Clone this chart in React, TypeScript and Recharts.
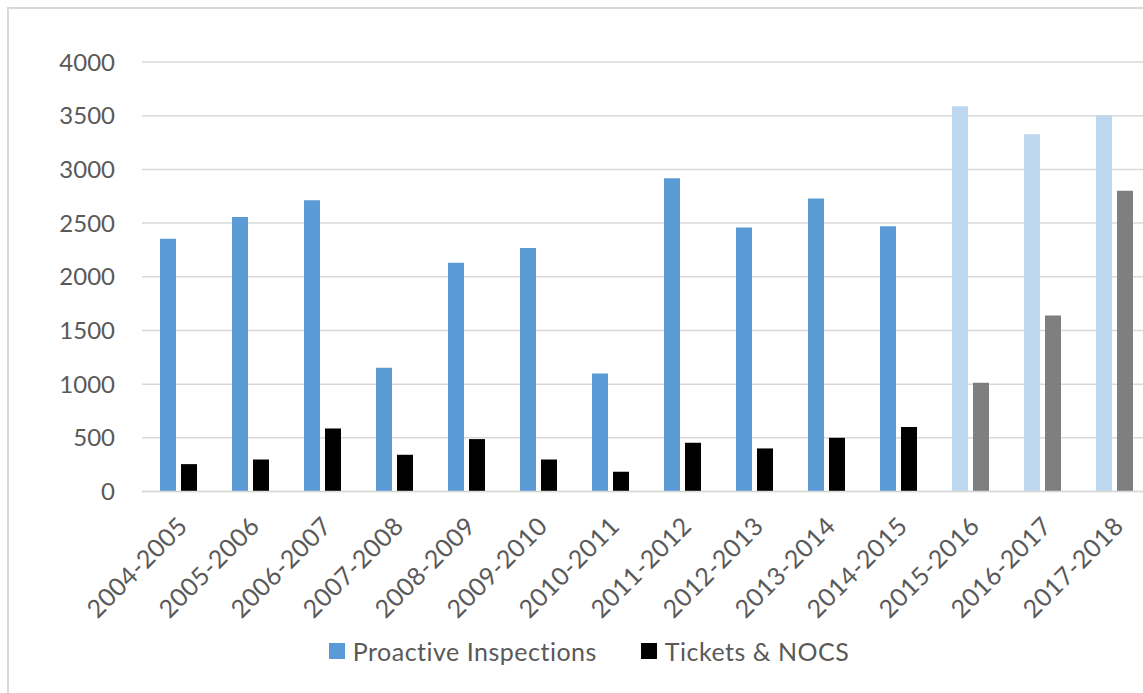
import React from "react";
import { BarChart, Bar, XAxis, YAxis, CartesianGrid, Legend, Cell } from "recharts";

const categories = [
  "2004-2005", "2005-2006", "2006-2007", "2007-2008", "2008-2009", "2009-2010", "2010-2011",
  "2011-2012", "2012-2013", "2013-2014", "2014-2015", "2015-2016", "2016-2017", "2017-2018",
];
const proactive = [2355, 2557, 2712, 1153, 2131, 2268, 1100, 2917, 2458, 2728, 2470, 3588, 3327, 3501];
const tickets = [255, 298, 587, 342, 488, 298, 184, 454, 401, 500, 600, 1013, 1640, 2802];
// last three seasons are shown in lighter shades
const faded = [false, false, false, false, false, false, false, false, false, false, false, true, true, true];
const yTicks = [0, 500, 1000, 1500, 2000, 2500, 3000, 3500, 4000];

const data = categories.map((season, i) => ({
  season,
  proactive: proactive[i],
  tickets: tickets[i],
  faded: faded[i],
}));

const FONT = "Lato, 'Open Sans', sans-serif";
const TEXT = "#595959";
const BLUE = "#5B9BD5";
const LIGHT_BLUE = "#BDD7EE";
const BLACK = "#000000";
const GRAY = "#7F7F7F";
const GRID = "#D9D9D9";

const SeasonTick = (props: any) => {
  const { x, y, payload } = props;
  const ax = x + 5;
  const ay = y + 22;
  return (
    <text
      x={ax}
      y={ay}
      dy="0.35em"
      textAnchor="end"
      transform={`rotate(-45 ${ax} ${ay})`}
      fill={TEXT}
      fontSize={25}
      letterSpacing={0.5}
      fontFamily={FONT}
    >
      {payload.value}
    </text>
  );
};

const LegendContent = () => {
  const items = [
    { label: "Proactive Inspections", color: BLUE },
    { label: "Tickets & NOCS", color: BLACK },
  ];
  return (
    <div
      style={{
        display: "flex",
        justifyContent: "center",
        fontFamily: FONT,
        fontSize: 25,
        letterSpacing: 0.5,
        color: TEXT,
      }}
    >
      {items.map((it, i) => (
        <div key={it.label} style={{ display: "flex", alignItems: "center", marginLeft: i ? 44 : 0 }}>
          <span style={{ width: 16, height: 16, background: it.color, marginRight: 8, display: "inline-block" }} />
          <span>{it.label}</span>
        </div>
      ))}
    </div>
  );
};

export default function App() {
  return (
    <div
      style={{
        position: "fixed",
        left: 0,
        top: 0,
        width: 1143,
        height: 693,
        overflow: "hidden",
        background: "#fff",
      }}
    >
      <div
        style={{
          position: "absolute",
          left: 7,
          top: 7,
          width: 1300,
          height: 900,
          borderLeft: `2px solid ${GRID}`,
          borderTop: `2px solid ${GRID}`,
        }}
      />
      <div style={{ position: "absolute", left: 0, top: 0 }}>
        <BarChart
          width={1150}
          height={693}
          data={data}
          margin={{ top: 62, right: 0, left: 0, bottom: 0 }}
          barSize={16}
          barGap={5}
        >
          <CartesianGrid vertical={false} stroke={GRID} strokeWidth={1.5} />
          <XAxis
            dataKey="season"
            interval={0}
            height={201.5}
            tick={<SeasonTick />}
            tickLine={false}
            axisLine={{ stroke: GRID, strokeWidth: 1.5 }}
          />
          <YAxis
            width={142}
            domain={[0, 4000]}
            ticks={yTicks}
            tickLine={false}
            axisLine={false}
            tickSize={0}
            tickMargin={27}
            tick={{ fontSize: 24, fill: TEXT, fontFamily: FONT }}
          />
          <Legend
            layout="horizontal"
            verticalAlign="middle"
            align="center"
            content={<LegendContent />}
            wrapperStyle={{ top: 636, left: 0, width: 1178 }}
          />
          <Bar dataKey="proactive" name="Proactive Inspections" fill={BLUE} isAnimationActive={false}>
            {data.map((d) => (
              <Cell key={d.season} fill={d.faded ? LIGHT_BLUE : BLUE} />
            ))}
          </Bar>
          <Bar dataKey="tickets" name="Tickets & NOCS" fill={BLACK} isAnimationActive={false}>
            {data.map((d) => (
              <Cell key={d.season} fill={d.faded ? GRAY : BLACK} />
            ))}
          </Bar>
        </BarChart>
      </div>
    </div>
  );
}
